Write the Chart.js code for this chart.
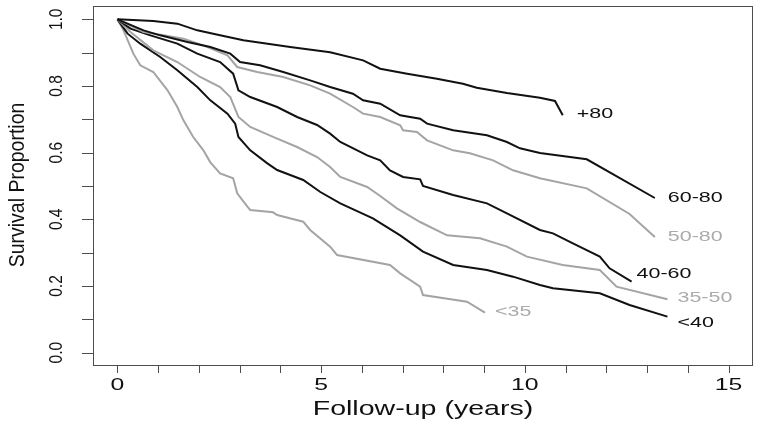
<!DOCTYPE html>
<html>
<head>
<meta charset="utf-8">
<script src="https://cdn.jsdelivr.net/npm/chart.js@4/dist/chart.umd.min.js"></script>
<style>
  html, body { margin: 0; padding: 0; background: #fff; }
  #wrap { width: 760px; height: 428px; }
</style>
</head>
<body>
<div id="wrap"><canvas id="grafica" width="760" height="428"></canvas></div>
<script>
// survival curves (years, proportion)
var t80 = [0, 0.88, 1.47, 1.96, 2.52, 3.09, 4.24, 5.22, 6.03, 6.45, 7.11, 7.84, 8.48, 8.82, 9.56, 10.37, 10.74, 10.93];
var s80 = [1.0, 0.995, 0.987, 0.967, 0.952, 0.937, 0.917, 0.901, 0.877, 0.852, 0.837, 0.822, 0.807, 0.795, 0.779, 0.765, 0.755, 0.712];

var t6080 = [0, 0.64, 1.05, 1.72, 2.28, 2.77, 3.01, 3.50, 4.07, 4.73, 5.22, 5.78, 6.03, 6.45, 6.94, 7.43, 7.60, 8.24, 9.07, 9.56, 9.88, 10.37, 11.52, 13.19];
var s6080 = [1.0, 0.967, 0.952, 0.932, 0.917, 0.897, 0.872, 0.862, 0.842, 0.817, 0.797, 0.777, 0.757, 0.747, 0.712, 0.702, 0.687, 0.667, 0.652, 0.632, 0.613, 0.599, 0.580, 0.464];

var t5080 = [0, 0.64, 1.13, 1.62, 2.21, 2.70, 2.94, 3.43, 4.07, 4.73, 5.22, 5.78, 6.03, 6.45, 6.94, 7.01, 7.35, 7.60, 8.24, 8.65, 9.22, 9.71, 10.37, 11.52, 12.57, 13.19];
var s5080 = [1.0, 0.962, 0.952, 0.942, 0.917, 0.892, 0.857, 0.842, 0.827, 0.802, 0.777, 0.737, 0.717, 0.707, 0.682, 0.667, 0.662, 0.637, 0.607, 0.598, 0.577, 0.547, 0.523, 0.493, 0.416, 0.347];

var t4060 = [0, 0.32, 0.81, 1.47, 1.96, 2.52, 2.84, 2.97, 3.26, 3.92, 4.41, 4.90, 5.22, 5.47, 6.13, 6.45, 6.69, 7.01, 7.43, 7.50, 8.24, 9.07, 9.56, 10.37, 10.69, 11.18, 11.84, 12.08, 12.62];
var s4060 = [1.0, 0.972, 0.952, 0.927, 0.897, 0.872, 0.837, 0.787, 0.767, 0.737, 0.707, 0.683, 0.657, 0.632, 0.592, 0.577, 0.547, 0.527, 0.520, 0.500, 0.473, 0.448, 0.418, 0.368, 0.358, 0.328, 0.288, 0.253, 0.213];

var t3550 = [0, 0.32, 0.88, 1.47, 2.03, 2.52, 2.77, 2.97, 3.26, 3.92, 4.41, 4.90, 5.22, 5.47, 6.13, 6.45, 6.86, 7.43, 8.09, 8.90, 9.56, 10.05, 10.93, 11.84, 12.25, 13.50];
var s3550 = [1.0, 0.962, 0.907, 0.872, 0.827, 0.797, 0.767, 0.707, 0.677, 0.642, 0.617, 0.587, 0.557, 0.527, 0.497, 0.470, 0.433, 0.392, 0.352, 0.343, 0.318, 0.288, 0.263, 0.248, 0.198, 0.160];

var t40 = [0, 0.25, 0.56, 1.05, 1.47, 1.96, 2.28, 2.70, 2.89, 2.97, 3.26, 3.68, 3.92, 4.24, 4.56, 4.98, 5.47, 6.27, 6.94, 7.50, 8.24, 9.07, 9.71, 10.37, 10.69, 11.84, 12.57, 13.50];
var s40 = [1.0, 0.957, 0.927, 0.887, 0.847, 0.797, 0.757, 0.717, 0.687, 0.647, 0.607, 0.568, 0.548, 0.533, 0.518, 0.482, 0.448, 0.403, 0.352, 0.303, 0.263, 0.248, 0.228, 0.203, 0.193, 0.178, 0.143, 0.108];

var t35 = [0, 0.15, 0.39, 0.56, 0.88, 1.23, 1.47, 1.62, 1.86, 2.11, 2.28, 2.52, 2.84, 2.94, 3.19, 3.26, 3.82, 3.92, 4.56, 4.73, 5.22, 5.39, 6.69, 6.94, 7.43, 7.50, 8.58, 9.02];
var s35 = [1.0, 0.967, 0.897, 0.862, 0.842, 0.787, 0.737, 0.697, 0.647, 0.607, 0.571, 0.538, 0.523, 0.478, 0.438, 0.428, 0.421, 0.413, 0.393, 0.368, 0.318, 0.293, 0.263, 0.238, 0.198, 0.173, 0.153, 0.120];

var grupos = ['+80', '60-80', '50-80', '40-60', '35-50', '<40', '<35'];
var xEtiquetas = [0, 5, 10, 15];
var yEtiquetas = [0, 0.2, 0.4, 0.6, 0.8, 1.0];

var NEGRO = '#111111';
var GRIS = '#a4a4a4';
var GRIS_TXT = '#ababab';

// label offset from the last point of each curve (px)
var offs = [[14, -1], [13, 0], [13, 0], [5, -8], [10, -1], [10, 6], [10, -1]];

function serie(t, s) {
    var out = [];
    for (var i = 0; i < t.length; i++) out.push({x: t[i], y: s[i]});
    return out;
}

var curvas = [
    {d: serie(t80, s80), c: NEGRO},
    {d: serie(t6080, s6080), c: NEGRO},
    {d: serie(t5080, s5080), c: GRIS},
    {d: serie(t4060, s4060), c: NEGRO},
    {d: serie(t3550, s3550), c: GRIS},
    {d: serie(t40, s40), c: NEGRO},
    {d: serie(t35, s35), c: GRIS}
];

function texto(ctx, s, x, y, size, sx, color, rot, align) {
    ctx.save();
    ctx.translate(x, y);
    ctx.scale(sx, 1);
    if (rot) ctx.rotate(-Math.PI / 2);
    ctx.font = size + 'px "Liberation Sans", Arial, sans-serif';
    ctx.fillStyle = color;
    ctx.textAlign = align || 'center';
    ctx.textBaseline = 'middle';
    ctx.fillText(s, 0, 0);
    ctx.restore();
}

var marco = {
    id: 'marco',
    afterDraw: function(chart) {
        var ctx = chart.ctx, a = chart.chartArea;
        var x = chart.scales.x, y = chart.scales.y;
        ctx.save();
        ctx.strokeStyle = '#4d4d4d';
        ctx.lineWidth = 1;
        ctx.strokeRect(Math.round(a.left) + 0.5, Math.round(a.top) + 0.5,
                       Math.round(a.right - a.left) - 1, Math.round(a.bottom - a.top) - 1);
        ctx.beginPath();
        for (var k = 0; k <= 15; k++) {
            var px = Math.round(x.getPixelForValue(k)) + 0.5;
            ctx.moveTo(px, a.bottom);
            ctx.lineTo(px, a.bottom + 7);
        }
        for (var j = 0; j <= 10; j++) {
            var py = Math.round(y.getPixelForValue(j / 10)) + 0.5;
            ctx.moveTo(a.left, py);
            ctx.lineTo(a.left - 11, py);
        }
        ctx.stroke();
        ctx.restore();

        xEtiquetas.forEach(function(v) {
            texto(ctx, String(v), x.getPixelForValue(v), a.bottom + 19, 16.5, 1.5, NEGRO);
        });
        yEtiquetas.forEach(function(v) {
            texto(ctx, v.toFixed(1), 57, y.getPixelForValue(v), 15.5, 1.19, NEGRO, true);
        });
        texto(ctx, 'Follow-up (years)', (a.left + a.right) / 2, 409, 21, 1.36, NEGRO);
        texto(ctx, 'Survival Proportion', 17.5, 185, 19.5, 1.13, NEGRO, true);

        curvas.forEach(function(c, i) {
            var ult = c.d[c.d.length - 1];
            var px = x.getPixelForValue(ult.x) + offs[i][0];
            var py = y.getPixelForValue(ult.y) + offs[i][1];
            texto(ctx, grupos[i], px, py, 14.5, 1.48, c.c === NEGRO ? NEGRO : GRIS_TXT, false, 'left');
        });
    }
};

new Chart(document.getElementById('grafica'), {
    type: 'scatter',
    data: {
        datasets: curvas.map(function(c, i) {
            return {
                label: grupos[i],
                data: c.d,
                showLine: true,
                borderColor: c.c,
                backgroundColor: c.c,
                borderWidth: 2,
                pointRadius: 0,
                tension: 0
            };
        })
    },
    options: {
        responsive: false,
        animation: false,
        layout: {padding: {left: 93, top: 6, right: 7, bottom: 62}},
        plugins: {legend: {display: false}, tooltip: {enabled: false}},
        scales: {
            x: {type: 'linear', min: -0.6, max: 15.6, display: false},
            y: {type: 'linear', min: -0.04, max: 1.04, display: false}
        }
    },
    plugins: [marco]
});
</script>
</body>
</html>
